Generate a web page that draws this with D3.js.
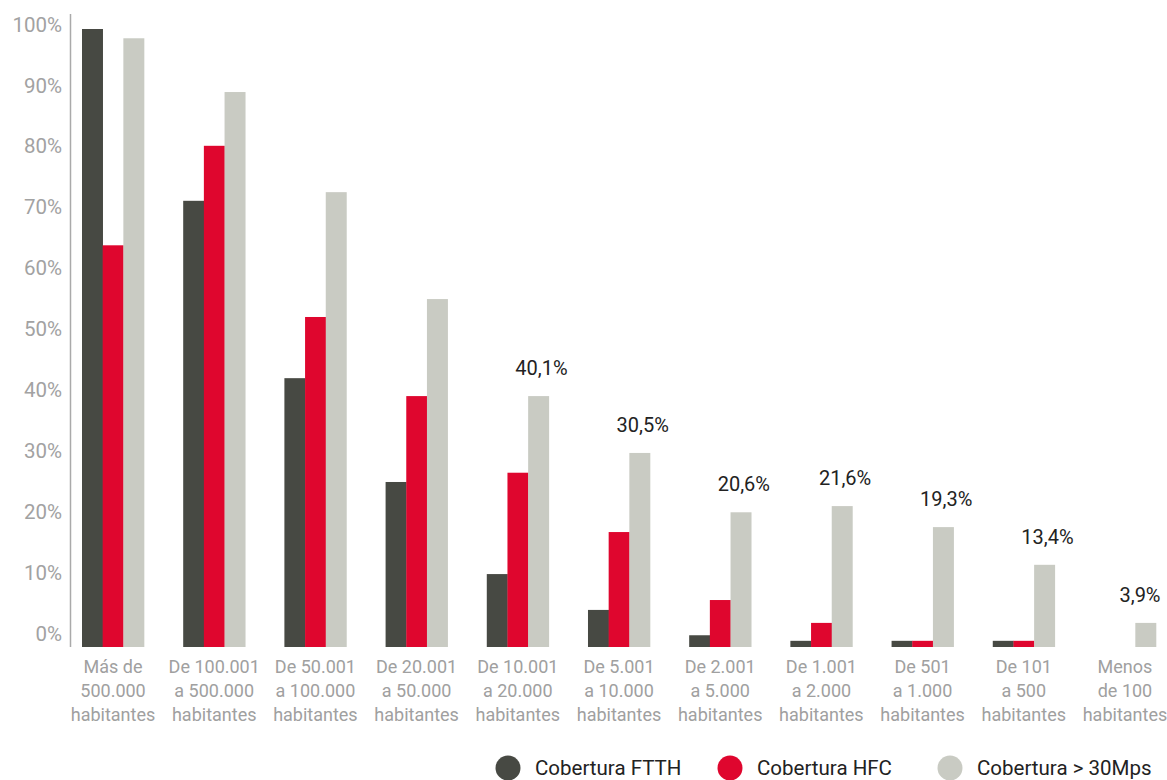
<!DOCTYPE html>
<html>
<head>
<meta charset="utf-8">
<script src="https://cdn.jsdelivr.net/npm/d3@7"></script>
<style>
  html, body { margin: 0; padding: 0; background: #fff; }
  svg { display: block; font-family: Roboto, "Noto Sans", sans-serif; }
</style>
</head>
<body>
<svg id="chart" width="1167" height="780"></svg>
<script>
// ---------- data ----------
const categories = [
  ["Más de", "500.000", "habitantes"],
  ["De 100.001", "a 500.000", "habitantes"],
  ["De 50.001", "a 100.000", "habitantes"],
  ["De 20.001", "a 50.000", "habitantes"],
  ["De 10.001", "a 20.000", "habitantes"],
  ["De 5.001", "a 10.000", "habitantes"],
  ["De 2.001", "a 5.000", "habitantes"],
  ["De 1.001", "a 2.000", "habitantes"],
  ["De 501", "a 1.000", "habitantes"],
  ["De 101", "a 500", "habitantes"],
  ["Menos", "de 100", "habitantes"]
];
const seriesNames = ["Cobertura FTTH", "Cobertura HFC", "Cobertura > 30Mps"];
const ftth   = [100, 72.2, 43.5, 26.7, 11.8, 6.0, 1.9, 1.0, 1.0, 1.0, 0];
const hfc    = [65.0, 81.1, 53.4, 40.6, 28.2, 18.6, 7.6, 3.9, 1.0, 1.0, 0];
const over30 = [98.5, 89.8, 73.6, 56.3, 40.6, 31.4, 21.8, 22.8, 19.4, 13.3, 3.9];
const valueLabels = [null, null, null, null, "40,1%", "30,5%", "20,6%", "21,6%", "19,3%", "13,4%", "3,9%"];
const tickValues = [0, 10, 20, 30, 40, 50, 60, 70, 80, 90, 100];
const colors = ["#474943", "#DF062E", "#C9CBC3"];

// ---------- layout ----------
const svg = d3.select("#chart");
const keys = categories.map((c, i) => i);
const seriesData = [ftth, hfc, over30];

const x0 = d3.scaleBand().domain(keys).range([82, 1156]).paddingInner(0.387).paddingOuter(0);
const x1 = d3.scaleBand().domain(d3.range(seriesNames.length)).range([0, x0.bandwidth()]).padding(0);
const y = d3.scaleLinear().domain([0, 100]).range([647, 29]);
const yTickScale = d3.scaleLinear().domain([0, 100]).range([633, 24]);

// y axis line
svg.append("line")
  .attr("x1", 70.5).attr("x2", 70.5)
  .attr("y1", 14).attr("y2", 647)
  .attr("stroke", "#aaaaaa").attr("stroke-width", 1.5);

// y tick labels
const yAxis = d3.axisLeft(yTickScale).tickValues(tickValues).tickSize(0).tickPadding(0)
  .tickFormat(d => d + "%");
const gy = svg.append("g").attr("transform", "translate(62,0)").call(yAxis);
gy.select(".domain").remove();
gy.selectAll("text")
  .attr("font-family", "Roboto, sans-serif")
  .attr("font-size", 20.5)
  .attr("fill", "#a2a2a2")
  .attr("dy", "0.35em");

// bars
const groups = svg.append("g").selectAll("g")
  .data(keys).join("g")
  .attr("transform", k => `translate(${x0(k)},0)`);

groups.selectAll("rect")
  .data(k => seriesData.map((s, si) => ({ si, v: s[k] })))
  .join("rect")
  .attr("x", d => x1(d.si))
  .attr("width", x1.bandwidth() + 0.3)
  .attr("y", d => y(d.v))
  .attr("height", d => y(0) - y(d.v))
  .attr("fill", d => colors[d.si]);

// value labels above the >30Mps bars
svg.append("g").selectAll("text")
  .data(keys.filter(k => valueLabels[k]))
  .join("text")
  .attr("x", k => Math.min(x0(k) + x1(2) + x1.bandwidth() / 2 + 3, 1140))
  .attr("y", k => y(over30[k]) - 21)
  .attr("text-anchor", "middle")
  .attr("font-size", 20)
  .attr("fill", "#222")
  .text(k => valueLabels[k]);

// category labels
const catG = svg.append("g").selectAll("text")
  .data(keys).join("text")
  .attr("x", k => x0(k) + x0.bandwidth() / 2)
  .attr("y", 673)
  .attr("text-anchor", "middle")
  .attr("font-size", 18)
  .attr("fill", "#a0a0a0");
catG.selectAll("tspan")
  .data(k => categories[k].map(line => ({ line, k })))
  .join("tspan")
  .attr("x", d => x0(d.k) + x0.bandwidth() / 2)
  .attr("dy", (d, i) => i === 0 ? 0 : 24)
  .text(d => d.line);

// legend
const legendX = [508, 730, 950];
const legend = svg.append("g").selectAll("g")
  .data(seriesNames).join("g")
  .attr("transform", (d, i) => `translate(${legendX[i]},768)`);
legend.append("circle").attr("r", 12.5).attr("fill", (d, i) => colors[i]);
legend.append("text")
  .attr("x", 27).attr("dy", "0.35em")
  .attr("font-size", 20.5)
  .attr("fill", "#222")
  .text(d => d);
</script>
</body>
</html>
